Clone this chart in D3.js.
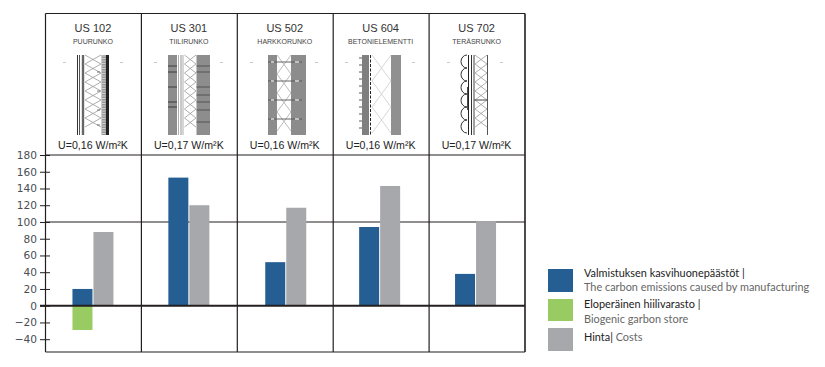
<!DOCTYPE html>
<html lang="en">

<head>
    <meta charset="utf-8">
    <script src="https://d3js.org/d3.v7.min.js"></script>
    <title>US wall types</title>
    <style>
        html, body { margin: 0; padding: 0; background: #fff; }
        svg { display: block; }
    </style>
</head>

<body>
    <div id="chart"></div>
    <script>
        // Values.
        const categories = ["US 102", "US 301", "US 502", "US 604", "US 702"];
        const frameNames = ["PUURUNKO", "TIILIRUNKO", "HARKKORUNKO", "BETONIELEMENTTI", "TERÄSRUNKO"];
        const uValues = ["U=0,16 W/m²K", "U=0,17 W/m²K", "U=0,16 W/m²K", "U=0,16 W/m²K", "U=0,17 W/m²K"];
        const emissions = [20, 153, 52, 94, 38];
        const biogenic = [-29, 0, 0, 0, 0];
        const costs = [88, 120, 117, 143, 101];
        const yTicks = [180, 160, 140, 120, 100, 80, 60, 40, 20, 0, -20, -40];
        const legendLabels = [
            ["Valmistuksen kasvihuonepäästöt |", "The carbon emissions caused by manufacturing"],
            ["Eloperäinen hiilivarasto |", "Biogenic garbon store"],
            ["Hinta|", " Costs"]
        ];

        const BLUE = "#255e92", GREEN = "#98cc62", GREY = "#a7a8ac", INK = "#231f20";

        const plotLeft = 45.5, plotRight = 525, plotTop = 13.5, plotBottom = 352;
        const barWidth = 20;

        const svg = d3.select("#chart").append("svg")
            .attr("width", 825).attr("height", 367);

        const x = d3.scaleBand().domain(categories).range([plotLeft, plotRight]);
        const y = d3.scaleLinear().domain([0, 180]).range([305.7, 155]);

        // The bars in the original aren't quite centred in their columns.
        const barCentre = (i) => x(categories[i]) + x.bandwidth() / 2 + [0, 0, 1, -1, -1][i];

        // Grid and frame.
        const grid = svg.append("g").attr("stroke", INK).attr("fill", "none");
        [plotTop, y(180), y(100), plotBottom].forEach((py) => {
            grid.append("line").attr("x1", plotLeft).attr("x2", plotRight)
                .attr("y1", py).attr("y2", py).attr("stroke-width", 1.2);
        });
        grid.selectAll(".col").data(categories).enter().append("line")
            .attr("class", "col")
            .attr("x1", d => x(d)).attr("x2", d => x(d))
            .attr("y1", plotTop).attr("y2", plotBottom)
            .attr("stroke-width", 1.2);
        grid.append("line").attr("x1", plotRight).attr("x2", plotRight).attr("y1", plotTop).attr("y2", plotBottom).attr("stroke-width", 1.6);

        // Bars sit above the 100 line.
        const bars = svg.append("g");
        bars.selectAll(".emission").data(emissions).enter().append("rect")
            .attr("class", "emission")
            .attr("x", (d, i) => barCentre(i) - barWidth - 1)
            .attr("y", d => y(d))
            .attr("width", barWidth)
            .attr("height", d => y(0) - y(d))
            .attr("fill", BLUE);
        bars.selectAll(".biogenic").data(biogenic).enter().append("rect")
            .attr("class", "biogenic")
            .attr("x", (d, i) => barCentre(i) - barWidth - 1)
            .attr("y", y(0))
            .attr("width", barWidth)
            .attr("height", d => y(d) - y(0))
            .attr("fill", GREEN);
        bars.selectAll(".cost").data(costs).enter().append("rect")
            .attr("class", "cost")
            .attr("x", (d, i) => barCentre(i))
            .attr("y", d => y(d))
            .attr("width", barWidth)
            .attr("height", d => y(0) - y(d))
            .attr("fill", GREY);

        // Zero line.
        svg.append("line")
            .attr("x1", 40).attr("x2", plotRight)
            .attr("y1", y(0)).attr("y2", y(0))
            .attr("stroke", INK).attr("stroke-width", 2);

        // Y axis.
        const yAxis = d3.axisLeft(y).tickValues(yTicks).tickSize(5).tickPadding(3);
        const axisG = svg.append("g")
            .attr("transform", `translate(${plotLeft + 4.5},0)`)
            .call(yAxis);
        axisG.select(".domain").remove();
        axisG.selectAll("line").attr("stroke", INK).attr("x2", -10);
        axisG.selectAll("text")
            .attr("x", -13)
            .attr("fill", "#4a4f55")
            .style("font-family", "'DejaVu Sans', sans-serif")
            .style("font-size", "10.6px");

        // Header text in each column.
        const head = svg.append("g").attr("text-anchor", "middle").attr("font-family", "'Liberation Sans', Arial, sans-serif");
        head.selectAll(".name").data(categories).enter().append("text")
            .attr("class", "name")
            .attr("x", d => x(d) + x.bandwidth() / 2 - 0.5).attr("y", 32)
            .attr("font-size", 11).attr("fill", "#333")
            .text(d => d);
        head.selectAll(".frame").data(frameNames).enter().append("text")
            .attr("class", "frame")
            .attr("x", (d, i) => x(categories[i]) + x.bandwidth() / 2 - 0.5).attr("y", 43.5)
            .attr("font-size", 7).attr("fill", "#444")
            .text(d => d);
        head.selectAll(".u").data(uValues).enter().append("text")
            .attr("class", "u")
            .attr("x", (d, i) => x(categories[i]) + x.bandwidth() / 2 - 0.5).attr("y", 149)
            .attr("font-size", 10.6).attr("fill", "#222")
            .text(d => d);

        // Wall cross sections, plain sketches of the reference's illustrations.
        // The originals are low-res bitmaps, so the sketches get a slight blur.
        svg.append("defs").append("filter").attr("id", "soft")
            .append("feGaussianBlur").attr("stdDeviation", 0.45);

        const wallTop = 55, wallBottom = 135;
        const walls = svg.append("g").attr("fill", "none").attr("filter", "url(#soft)");

        function vline(px, color, w) {
            walls.append("line").attr("x1", px).attr("x2", px)
                .attr("y1", wallTop).attr("y2", wallBottom)
                .attr("stroke", color).attr("stroke-width", w);
        }
        function block(x0, x1, color) {
            walls.append("rect").attr("x", x0).attr("y", wallTop)
                .attr("width", x1 - x0).attr("height", wallBottom - wallTop)
                .attr("fill", color);
        }
        function zigzag(x0, x1, step, color, w) {
            const pts = [];
            let side = 0;
            for (let py = wallTop; py <= wallBottom; py += step) {
                pts.push([side ? x1 : x0, py]);
                side = 1 - side;
            }
            walls.append("path").attr("d", d3.line()(pts))
                .attr("stroke", color).attr("stroke-width", w);
            const back = pts.map(p => [p[0] === x0 ? x1 : x0, p[1]]);
            walls.append("path").attr("d", d3.line()(back))
                .attr("stroke", color).attr("stroke-width", w);
        }
        function hbar(x0, x1, py, color, w) {
            walls.append("line").attr("x1", x0).attr("x2", x1)
                .attr("y1", py).attr("y2", py)
                .attr("stroke", color).attr("stroke-width", w);
        }
        function mark(px) { hbar(px, px + 3, 62.5, "#bbb", 0.8); }

        // US 102
        vline(77.5, "#333", 1); vline(79.5, "#555", 1); vline(83, "#666", 2.4);
        zigzag(85, 101, 9, "#999", 0.8);
        block(101.5, 106, "#999");
        d3.range(56, 135, 2.5).forEach(py => hbar(102, 105.5, py, "#ddd", 0.8));
        block(106, 109, "#222");
        [72, 91, 110, 125].forEach(py => hbar(97, 100, py, "#555", 0.8));
        mark(63); mark(120);

        // US 301
        block(168, 177, "#8d8d8d"); block(196.5, 210, "#8d8d8d");
        [66, 72, 87, 102, 107].forEach(py => hbar(168, 177, py, "#333", 0.9));
        [66, 72, 87, 95, 102, 110, 122].forEach(py => hbar(196.5, 210, py, "#444", 0.8));
        vline(178.5, "#999", 0.8); vline(181, "#777", 0.8); vline(183, "#999", 0.8);
        zigzag(184.5, 196, 9, "#999", 0.8);
        mark(154); mark(220);

        // US 502
        block(268, 277, "#8c8c8c"); block(291, 306, "#8c8c8c");
        zigzag(277, 291, 19, "#aaa", 0.8);
        [62, 81, 100, 119].forEach(py => {
            hbar(268, 302, py, "#555", 0.9);
            hbar(271, 274, py, "#ddd", 1.5);
            hbar(295, 299, py, "#ddd", 1.5);
        });
        mark(250); mark(315);

        // US 604
        block(362, 369, "#7f7f7f"); block(391, 401, "#909090");
        d3.range(58, 135, 7).forEach(py => hbar(359, 362, py, "#333", 0.8));
        walls.append("line").attr("x1", 370.5).attr("x2", 370.5)
            .attr("y1", wallTop).attr("y2", wallBottom)
            .attr("stroke", "#222").attr("stroke-width", 1)
            .attr("stroke-dasharray", "3,1.5");
        zigzag(372, 391, 26, "#ccc", 0.8);
        mark(345); mark(412);

        // US 702
        const scallops = d3.range(wallTop, wallBottom - 13, 13).map(py => `M467,${py}A6,6.5 0 0 0 467,${py + 13}`).join("");
        walls.append("path").attr("d", scallops).attr("stroke", "#333").attr("stroke-width", 1);
        vline(468.5, "#222", 1); vline(471.5, "#333", 1); vline(474, "#444", 1);
        zigzag(475, 487, 9, "#999", 0.8);
        vline(487.5, "#555", 1);
        hbar(474, 487, 100, "#444", 1);
        walls.append("line").attr("x1", 468).attr("x2", 468).attr("y1", 87).attr("y2", 110)
            .attr("stroke", "#222").attr("stroke-width", 1.6);
        mark(447); mark(500);

        // Legend.
        const legendColors = [BLUE, GREEN, GREY];
        const legendTops = [269, 299, 328];
        const legendHeights = [23, 22, 23];
        const legend = svg.append("g").attr("font-family", "Lato, 'Open Sans', sans-serif").attr("font-size", 10.9);
        legend.selectAll("rect").data(legendColors).enter().append("rect")
            .attr("x", 548).attr("width", 25)
            .attr("y", (d, i) => legendTops[i])
            .attr("height", (d, i) => legendHeights[i])
            .attr("fill", d => d);

        legend.append("text").attr("x", 584).attr("y", 277).attr("fill", "#222").text(legendLabels[0][0]);
        legend.append("text").attr("x", 584).attr("y", 291).attr("fill", "#666").text(legendLabels[0][1]);
        legend.append("text").attr("x", 584).attr("y", 308).attr("fill", "#222").text(legendLabels[1][0]);
        legend.append("text").attr("x", 584).attr("y", 322.5).attr("fill", "#666").text(legendLabels[1][1]);
        const costText = legend.append("text").attr("x", 584).attr("y", 341).style("white-space", "pre");
        costText.append("tspan").attr("fill", "#222").text(legendLabels[2][0]);
        costText.append("tspan").attr("fill", "#666").text(legendLabels[2][1]);
    </script>
</body>

</html>
